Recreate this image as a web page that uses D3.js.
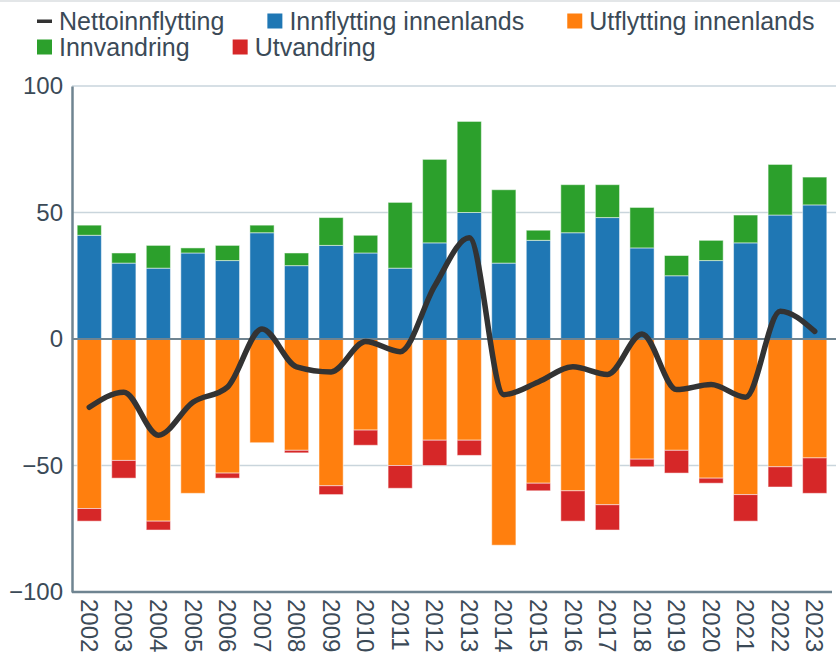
<!DOCTYPE html>
<html>
<head>
<meta charset="utf-8">
<script src="https://cdn.jsdelivr.net/npm/d3@7"></script>
<style>
  body { margin: 0; background: #fff; }
  svg { display: block; font-family: "Liberation Sans", Arial, sans-serif; }
</style>
</head>
<body>
<div id="chart"></div>
<script>
// Data
const years = ["2002", "2003", "2004", "2005", "2006", "2007", "2008", "2009", "2010", "2011",
    "2012", "2013", "2014", "2015", "2016", "2017", "2018", "2019", "2020", "2021", "2022", "2023"];
const innflytting = [41, 30, 28, 34, 31, 42, 29, 37, 34, 28, 38, 50, 30, 39, 42, 48, 36, 25, 31, 38, 49, 53];
const innvandring = [4, 4, 9, 2, 6, 3, 5, 11, 7, 26, 33, 36, 29, 4, 19, 13, 16, 8, 8, 11, 20, 11];
const utflytting = [-67, -48, -72, -61, -53, -41, -44, -58, -36, -50, -40, -40, -81.5, -57, -60, -65.5, -47.5, -44, -55, -61.5, -50.5, -47];
const utvandring = [-5, -7, -3.5, 0, -2, 0, -1, -3.5, -6, -9, -10, -6, 0, -3, -12, -10, -3, -9, -2, -10.5, -8, -14];
const netto = [-27, -21, -38, -25, -19, 4, -11, -13, -1, -5, 21, 40, -22, -17, -11, -14, 2, -20, -18, -23, 11, 3];
const yTicks = [-100, -50, 0, 50, 100];

const legendItems = [
    { name: "Nettoinnflytting", color: "#333333", line: true },
    { name: "Innflytting innenlands", color: "#1f77b4" },
    { name: "Utflytting innenlands", color: "#ff7f0e" },
    { name: "Innvandring", color: "#2ca02c" },
    { name: "Utvandring", color: "#d62728" }
];

const width = 840, height = 657;
const margin = { top: 86, right: 8, bottom: 65, left: 72 };
const textColor = "#3b4a57";
const axisColor = "#6f8491";
const gridColor = "#c9d5dc";

const svg = d3.select("#chart").append("svg")
    .attr("width", width)
    .attr("height", height);

// linha fina no topo
svg.append("line")
    .attr("x1", 0).attr("x2", width)
    .attr("y1", 1).attr("y2", 1)
    .attr("stroke", "#e3e6e8").attr("stroke-width", 2);

const x = d3.scaleBand()
    .domain(years)
    .range([margin.left, width - margin.right])
    .paddingInner(0.3)
    .paddingOuter(0.15);

const y = d3.scaleLinear()
    .domain([-100, 100])
    .range([height - margin.bottom, margin.top]);

// Gridlines
svg.append("g")
    .selectAll("line")
    .data(yTicks.filter(d => d !== 0 && d !== -100))
    .join("line")
    .attr("x1", margin.left).attr("x2", width - 4)
    .attr("y1", d => y(d)).attr("y2", d => y(d))
    .attr("stroke", gridColor).attr("stroke-width", 1.5);

// Stacked bars
const series = [
    { values: innflytting, base: () => 0, color: "#1f77b4" },
    { values: innvandring, base: i => innflytting[i], color: "#2ca02c" },
    { values: utflytting, base: () => 0, color: "#ff7f0e" },
    { values: utvandring, base: i => utflytting[i], color: "#d62728" }
];

series.forEach(s => {
    svg.append("g")
        .selectAll("rect")
        .data(s.values.map((v, i) => ({ year: years[i], y0: s.base(i), y1: s.base(i) + v })))
        .join("rect")
        .filter(d => d.y0 !== d.y1)
        .attr("x", d => x(d.year))
        .attr("width", x.bandwidth())
        .attr("y", d => y(Math.max(d.y0, d.y1)))
        .attr("height", d => Math.abs(y(d.y0) - y(d.y1)))
        .attr("fill", s.color)
        .attr("stroke", "#ffffff")
        .attr("stroke-opacity", 0.5)
        .attr("stroke-width", 1);
});

// Zero line
svg.append("line")
    .attr("x1", margin.left).attr("x2", width - 4)
    .attr("y1", y(0)).attr("y2", y(0))
    .attr("stroke", axisColor).attr("stroke-width", 2);

// Net line
const line = d3.line()
    .x((d, i) => x(years[i]) + x.bandwidth() / 2)
    .y(d => y(d))
    .curve(d3.curveMonotoneX);

svg.append("path")
    .datum(netto)
    .attr("fill", "none")
    .attr("stroke", "#333333")
    .attr("stroke-width", 5.5)
    .attr("stroke-linecap", "round")
    .attr("stroke-linejoin", "round")
    .attr("d", line);

// Y axis
const yAxis = svg.append("g")
    .attr("transform", `translate(${margin.left},0)`)
    .call(d3.axisLeft(y).tickValues(yTicks).tickSize(0).tickPadding(9));
yAxis.select(".domain").attr("stroke", axisColor).attr("stroke-width", 2.5);
yAxis.selectAll("text")
    .attr("fill", textColor)
    .attr("font-size", 24)
    .attr("font-family", "Liberation Sans, Arial, sans-serif");

// X axis
const xAxis = svg.append("g")
    .attr("transform", `translate(0,${y(-100)})`)
    .call(d3.axisBottom(x).tickSize(0).tickPadding(0));
xAxis.select(".domain")
    .attr("stroke", axisColor).attr("stroke-width", 2.5)
    .attr("d", `M${margin.left},0H${width - 8}`);
xAxis.selectAll("text")
    .attr("fill", textColor)
    .attr("font-size", 24)
    .attr("font-family", "Liberation Sans, Arial, sans-serif")
    .attr("text-anchor", "start")
    .attr("dy", "0.35em")
    .attr("transform", "translate(0,7) rotate(90)")
    .attr("x", 0)
    .attr("y", 0);

// Legend
const legend = svg.append("g").attr("font-size", 25).attr("fill", textColor);
let lx = 37, ly = 21;
legendItems.forEach((item, i) => {
    const g = legend.append("g");
    if (item.line) {
        g.append("rect").attr("x", lx).attr("y", ly - 1.5).attr("width", 15).attr("height", 3.5).attr("fill", item.color);
    } else {
        g.append("rect").attr("x", lx).attr("y", ly - 7.5).attr("width", 15).attr("height", 15).attr("fill", item.color);
    }
    const t = g.append("text")
        .attr("x", lx + 22)
        .attr("y", ly)
        .attr("dy", "0.35em")
        .text(item.name);
    const w = t.node().getComputedTextLength();
    lx += 22 + w + 43;
    if (i === 2) { lx = 37; ly += 26; }
});
</script>
</body>
</html>
